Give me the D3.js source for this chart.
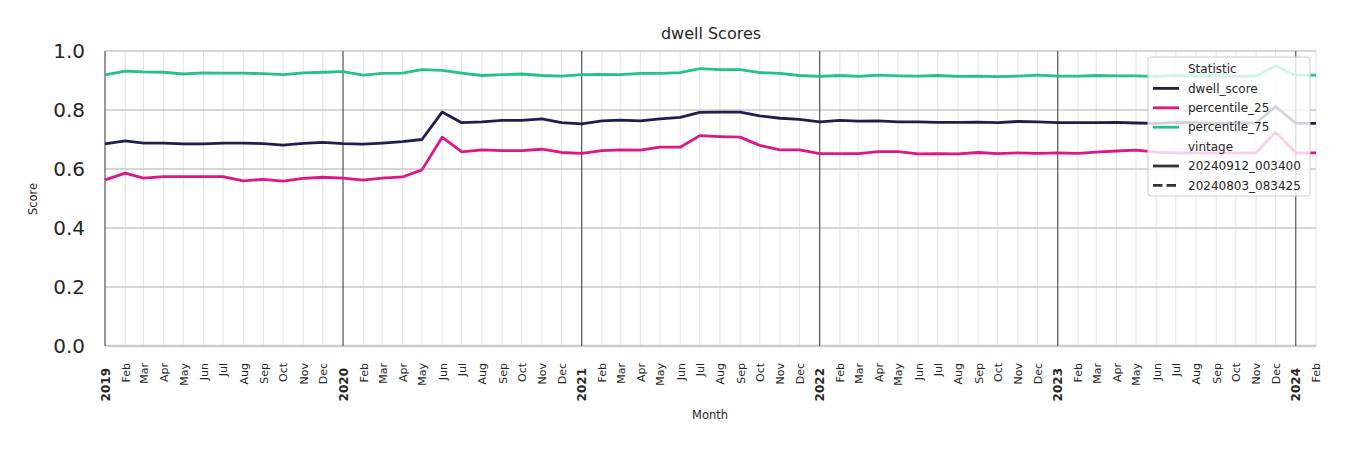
<!DOCTYPE html>
<html>
<head>
<meta charset="utf-8">
<script src="https://cdn.jsdelivr.net/npm/d3@7"></script>
<style>
  html, body { margin: 0; padding: 0; background: #ffffff; }
  svg { display: block; font-family: "DejaVu Sans", sans-serif; }
</style>
</head>
<body>
<svg id="chart" width="1350" height="450"></svg>
<script>
// ---------------- data ----------------
const months = [
  "2019-01","2019-02","2019-03","2019-04","2019-05","2019-06","2019-07","2019-08","2019-09","2019-10","2019-11","2019-12",
  "2020-01","2020-02","2020-03","2020-04","2020-05","2020-06","2020-07","2020-08","2020-09","2020-10","2020-11","2020-12",
  "2021-01","2021-02","2021-03","2021-04","2021-05","2021-06","2021-07","2021-08","2021-09","2021-10","2021-11","2021-12",
  "2022-01","2022-02","2022-03","2022-04","2022-05","2022-06","2022-07","2022-08","2022-09","2022-10","2022-11","2022-12",
  "2023-01","2023-02","2023-03","2023-04","2023-05","2023-06","2023-07","2023-08","2023-09","2023-10","2023-11","2023-12",
  "2024-01","2024-02"
];
const dwellScore = [
  0.685,0.695,0.688,0.688,0.685,0.685,0.688,0.688,0.686,0.681,0.687,0.690,
  0.686,0.684,0.688,0.693,0.700,0.793,0.757,0.760,0.765,0.765,0.770,0.757,
  0.753,0.763,0.766,0.763,0.770,0.775,0.792,0.793,0.793,0.780,0.772,0.768,
  0.760,0.765,0.762,0.763,0.760,0.760,0.758,0.758,0.759,0.757,0.761,0.760,
  0.757,0.757,0.757,0.758,0.756,0.755,0.758,0.757,0.755,0.756,0.756,0.812,
  0.755,0.755
];
const percentile25 = [
  0.563,0.586,0.569,0.574,0.574,0.574,0.574,0.560,0.565,0.559,0.568,0.572,
  0.569,0.562,0.569,0.573,0.597,0.708,0.658,0.665,0.662,0.662,0.667,0.656,
  0.653,0.662,0.665,0.664,0.674,0.674,0.713,0.710,0.708,0.680,0.665,0.665,
  0.652,0.652,0.652,0.659,0.659,0.651,0.652,0.651,0.656,0.652,0.655,0.653,
  0.655,0.653,0.657,0.661,0.664,0.657,0.655,0.655,0.655,0.655,0.655,0.725,
  0.655,0.655
];
const percentile75 = [
  0.919,0.932,0.929,0.928,0.922,0.926,0.925,0.925,0.923,0.920,0.926,0.928,
  0.930,0.918,0.924,0.925,0.937,0.934,0.925,0.917,0.920,0.922,0.917,0.915,
  0.920,0.921,0.920,0.924,0.924,0.927,0.940,0.937,0.937,0.927,0.924,0.917,
  0.914,0.917,0.914,0.918,0.916,0.915,0.917,0.914,0.915,0.913,0.915,0.918,
  0.915,0.915,0.917,0.916,0.916,0.914,0.917,0.916,0.916,0.915,0.915,0.950,
  0.918,0.918
];
const seriesNames = ["dwell_score", "percentile_25", "percentile_75"];
const vintageNames = ["20240912_003400", "20240803_083425"];
const yTickValues = [0.0, 0.2, 0.4, 0.6, 0.8, 1.0];
const monthAbbr = ["Jan","Feb","Mar","Apr","May","Jun","Jul","Aug","Sep","Oct","Nov","Dec"];
const titleText = "dwell Scores";
const xLabel = "Month";
const yLabel = "Score";
const legendTitle = "Statistic";
const vintageTitle = "vintage";

// ---------------- layout ----------------
const colors = { "dwell_score": "#1e1e52", "percentile_25": "#df1686", "percentile_75": "#23c28d" };
const svg = d3.select("#chart");
const plotLeft = 105, plotRight = 1316, plotTop = 51, plotBottom = 346;

const parse = d3.timeParse("%Y-%m");
const dates = months.map(parse);
const x = d3.scaleTime().domain([dates[0], dates[dates.length - 1]]).range([plotLeft, plotRight]);
const y = d3.scaleLinear().domain([0, 1]).range([plotBottom, plotTop]);

const monthTicks = d3.timeMonth.range(dates[0], d3.timeMonth.offset(dates[dates.length - 1], 1));

// grid: monthly minor verticals
svg.append("g").selectAll("line").data(monthTicks.filter(d => d.getMonth() !== 0)).join("line")
  .attr("x1", d => x(d)).attr("x2", d => x(d)).attr("y1", plotTop).attr("y2", plotBottom)
  .attr("stroke", "#e2e2e2").attr("stroke-width", 1);

// horizontal grid
svg.append("g").selectAll("line").data(yTickValues).join("line")
  .attr("x1", plotLeft).attr("x2", plotRight).attr("y1", d => y(d)).attr("y2", d => y(d))
  .attr("stroke", d => d === 0 ? "#cccccc" : "#c8c8c8")
  .attr("stroke-width", d => d === 0 ? 2.5 : 1.5);

// year verticals
svg.append("g").selectAll("line").data(monthTicks.filter(d => d.getMonth() === 0)).join("line")
  .attr("x1", d => x(d)).attr("x2", d => x(d)).attr("y1", plotTop).attr("y2", plotBottom)
  .attr("stroke", "#444444").attr("stroke-width", 1.1);

// lines
const seriesData = [dwellScore, percentile25, percentile75];
const lineGen = d3.line().x((d, i) => x(dates[i])).y(d => y(d));
svg.append("g").selectAll("path").data(seriesData).join("path")
  .attr("d", d => lineGen(d))
  .attr("fill", "none")
  .attr("stroke", (d, i) => colors[seriesNames[i]])
  .attr("stroke-width", 2.8)
  .attr("stroke-linejoin", "round")
  .attr("stroke-linecap", "butt");

// y axis
const yAxis = svg.append("g").attr("transform", `translate(${plotLeft},0)`)
  .call(d3.axisLeft(y).tickValues(yTickValues).tickFormat(d3.format(".1f")).tickSize(0).tickPadding(20));
yAxis.select(".domain").remove();
yAxis.selectAll("text").attr("font-size", 20).attr("fill", "#262626")
  .attr("font-family", "DejaVu Sans, sans-serif");

// x axis
const xAxis = svg.append("g").attr("transform", `translate(0,${plotBottom})`)
  .call(d3.axisBottom(x).tickValues(monthTicks)
    .tickFormat(d => d.getMonth() === 0 ? d3.timeFormat("%Y")(d) : monthAbbr[d.getMonth()])
    .tickSize(0));
xAxis.select(".domain").remove();
xAxis.selectAll(".tick text")
  .attr("transform", d => `translate(0,${d.getMonth() === 0 ? 22 : 17}) rotate(-90)`)
  .attr("y", 0).attr("dy", "0.35em").attr("x", 0)
  .attr("text-anchor", "end")
  .attr("font-size", d => d.getMonth() === 0 ? 12 : 11)
  .attr("font-weight", d => d.getMonth() === 0 ? "bold" : "normal")
  .attr("fill", "#262626")
  .attr("font-family", "DejaVu Sans, sans-serif");

// titles
svg.append("text").attr("x", 711).attr("y", 39).attr("text-anchor", "middle")
  .attr("font-size", 16).attr("fill", "#262626").text(titleText);
svg.append("text").attr("x", 710).attr("y", 419).attr("text-anchor", "middle")
  .attr("font-size", 11.5).attr("fill", "#262626").text(xLabel);
svg.append("text").attr("transform", "translate(37,199) rotate(-90)").attr("text-anchor", "middle")
  .attr("font-size", 11.5).attr("fill", "#262626").text(yLabel);

// legend
const lg = svg.append("g");
lg.append("rect").attr("x", 1148).attr("y", 57).attr("width", 162).attr("height", 139)
  .attr("rx", 3).attr("fill", "#ffffff").attr("fill-opacity", 0.8)
  .attr("stroke", "#cccccc").attr("stroke-width", 1);
const rows = [
  { label: legendTitle, type: "none" },
  { label: seriesNames[0], type: "solid", color: colors[seriesNames[0]] },
  { label: seriesNames[1], type: "solid", color: colors[seriesNames[1]] },
  { label: seriesNames[2], type: "solid", color: colors[seriesNames[2]] },
  { label: vintageTitle, type: "none" },
  { label: vintageNames[0], type: "solid", color: "#333333" },
  { label: vintageNames[1], type: "dashed", color: "#333333" }
];
const rowY = i => 69 + i * 19.4;
rows.forEach((r, i) => {
  if (r.type !== "none") {
    lg.append("line").attr("x1", 1153).attr("x2", 1179).attr("y1", rowY(i)).attr("y2", rowY(i))
      .attr("stroke", r.color).attr("stroke-width", 2.8)
      .attr("stroke-dasharray", r.type === "dashed" ? "9.5,4" : null);
  }
  lg.append("text").attr("x", 1188).attr("y", rowY(i)).attr("dy", "0.35em")
    .attr("font-size", 12).attr("fill", "#262626").text(r.label);
});
</script>
</body>
</html>
